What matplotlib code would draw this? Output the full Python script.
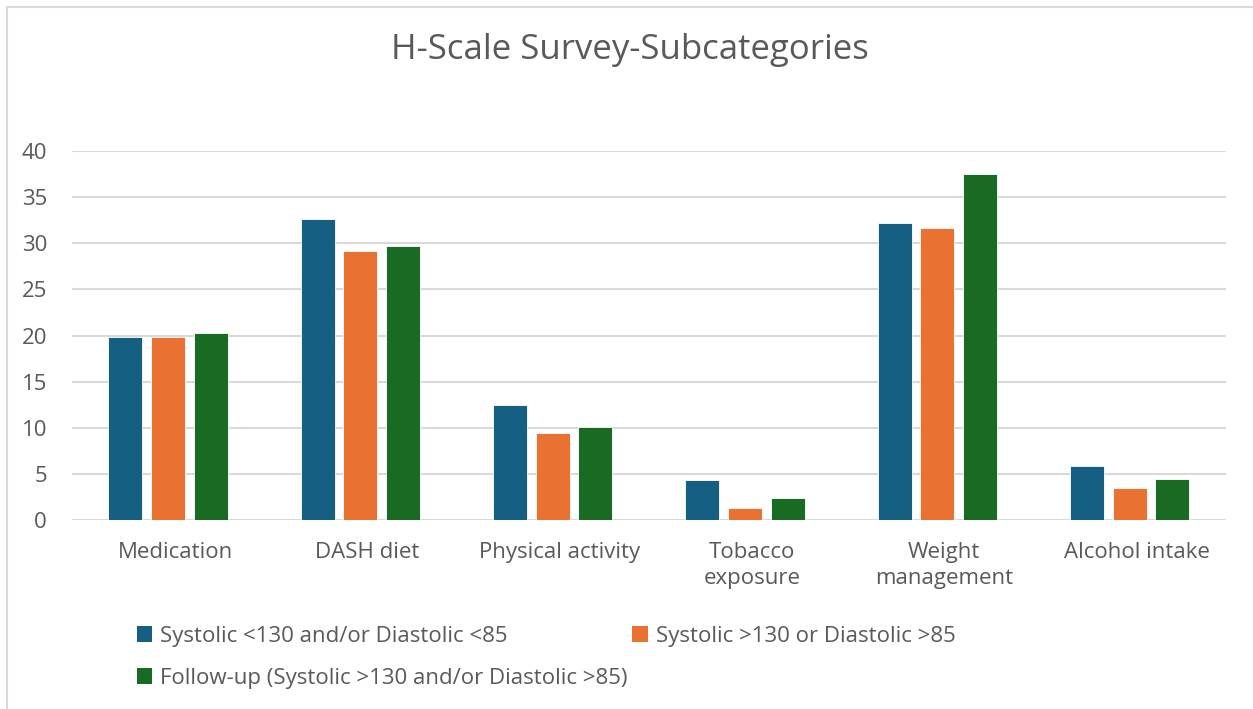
import matplotlib

matplotlib.use("Agg")
import matplotlib.pyplot as plt
import matplotlib.transforms as mtransforms
import numpy as np
from matplotlib.lines import Line2D
from matplotlib.patches import Patch

plt.rcParams["font.family"] = ["Open Sans", "DejaVu Sans"]

categories = ["Medication", "DASH diet", "Physical activity",
              "Tobacco\nexposure", "Weight\nmanagement", "Alcohol intake"]
series_names = ["Systolic <130 and/or Diastolic <85",
                "Systolic >130 or Diastolic >85",
                "Follow-up (Systolic >130 and/or Diastolic >85)"]
low_bp = [19.8, 32.6, 12.4, 4.3, 32.25, 5.8]
high_bp = [19.8, 29.2, 9.45, 1.25, 31.7, 3.4]
follow_up = [20.3, 29.7, 10.1, 2.4, 37.5, 4.4]
yticks = [0, 5, 10, 15, 20, 25, 30, 35, 40]

COLORS = ["#156082", "#E97132", "#196B24"]
TEXT = "#595959"
GRID = "#d9d9d9"

W, H = 1253, 709
fig = plt.figure(figsize=(W / 100, H / 100), dpi=100)
ax = fig.add_axes([72 / W, 1 - 519.7 / H, (1225.7 - 72) / W, (519.7 - 151.3) / H])

x = np.arange(len(categories))
step = 0.222
width = 0.177
for i, (vals, color) in enumerate(zip([low_bp, high_bp, follow_up], COLORS)):
    ax.bar(x + (i - 1) * step, vals, width=width, color=color,
           edgecolor="white", linewidth=0.6, zorder=3)

ax.set_xlim(-0.5, len(categories) - 0.5)
ax.set_ylim(0, 40)
ax.set_yticks(yticks)
ax.grid(axis="y", color=GRID, linewidth=1.5, zorder=0)
ax.set_axisbelow(True)
for s in ax.spines.values():
    s.set_visible(False)
ax.tick_params(axis="both", length=0, labelsize=16, labelcolor=TEXT)
ax.tick_params(axis="y", pad=18)
ax.tick_params(axis="x", pad=16)
ax.set_xticks(x)
ax.set_xticklabels(categories, linespacing=1.3)
# Excel draws the category labels a few pixels right of the group centre
shift = mtransforms.ScaledTranslation(7 / 100, 0, fig.dpi_scale_trans)
for lbl in ax.get_xticklabels():
    lbl.set_transform(lbl.get_transform() + shift)

fig.text(630 / W, 1 - 50 / H, "H-Scale Survey-Subcategories", ha="center",
         va="center", fontsize=25, color=TEXT)

# legend: row 1 = series 0, 1; row 2 = series 2
handles = [Patch(facecolor=c, edgecolor="none") for c in COLORS]
order = [0, 2, 1]
leg = fig.legend([handles[k] for k in order], [series_names[k] for k in order],
                 ncol=2, loc="upper left", bbox_to_anchor=(128 / W, 1 - 617 / H),
                 frameon=False, fontsize=16, handlelength=0.7, handleheight=0.7,
                 handletextpad=0.35, columnspacing=0.2, labelspacing=0.95,
                 borderaxespad=0)
for t in leg.get_texts():
    t.set_color(TEXT)

# chart frame (top and left edges visible)
fig.add_artist(Line2D([7 / W, 1], [1 - 7 / H, 1 - 7 / H], color=GRID, linewidth=1.5))
fig.add_artist(Line2D([7 / W, 7 / W], [0, 1 - 7 / H], color=GRID, linewidth=1.5))

fig.savefig("out.png", dpi=100)
